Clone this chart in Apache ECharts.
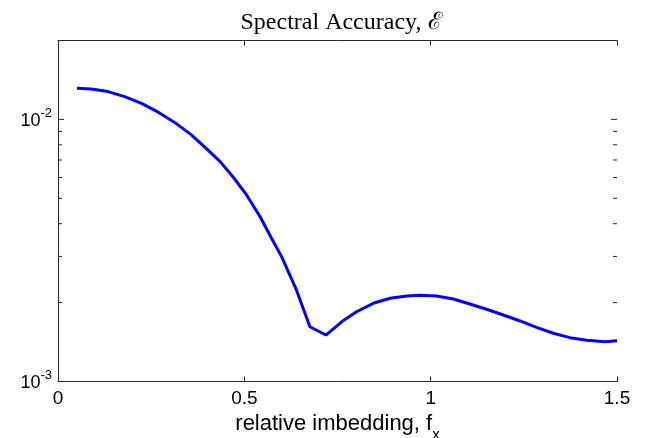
<!DOCTYPE html>
<html>
<head>
<meta charset="utf-8">
<script src="https://cdn.jsdelivr.net/npm/echarts@6/dist/echarts.min.js"></script>
<style>
  html, body { margin: 0; padding: 0; background: #fff; }
  #chart { width: 647px; height: 438px; }
</style>
</head>
<body>
<div id="chart"></div>
<script>
// relative imbedding f_x
const fx = [0.051, 0.089, 0.134, 0.179, 0.224, 0.268, 0.313, 0.358, 0.399, 0.435,
  0.470, 0.506, 0.542, 0.573, 0.600, 0.640, 0.676, 0.719, 0.761, 0.801,
  0.846, 0.891, 0.936, 0.971, 1.016, 1.061, 1.105, 1.150, 1.195, 1.240,
  1.284, 1.329, 1.374, 1.419, 1.468, 1.500]
// spectral accuracy E
const accuracy = [0.01315, 0.01307, 0.01277, 0.01222, 0.01151, 0.01068, 0.00974, 0.00873, 0.00772, 0.00690,
  0.00603, 0.00515, 0.00426, 0.00352, 0.002995, 0.00223, 0.001618, 0.001504, 0.00169, 0.001846,
  0.001988, 0.002078, 0.00212, 0.002133, 0.00212, 0.002065, 0.001976, 0.001886, 0.001794, 0.001702,
  0.00161, 0.001528, 0.00147, 0.001436, 0.001419, 0.001431]

const xTicks = ['0', '0.5', '1', '1.5']
const yMajorTicks = [0.001, 0.01]
const yMinorTicks = [0.002, 0.003, 0.004, 0.005, 0.006, 0.007, 0.008, 0.009, 0.02]

const axisColor = '#262626'
const chart = echarts.init(document.getElementById('chart'))

const option = {
  animation: false,
  title: {
    text: 'Spectral Accuracy, ℰ',
    left: 336,
    top: 6,
    textAlign: 'center',
    textStyle: { fontFamily: 'Liberation Serif', fontWeight: 'normal', fontSize: 24, color: '#000' }
  },
  grid: { left: 58, right: 30, top: 40.5, bottom: 56.5, containLabel: false, outerBoundsMode: 'none' },
  xAxis: [{
    type: 'value', min: 0, max: 1.5, interval: 0.5,
    position: 'bottom',
    axisLine: { onZero: false, lineStyle: { color: axisColor, width: 1 } },
    axisTick: { inside: true, length: 5, lineStyle: { color: axisColor } },
    splitLine: { show: false },
    axisLabel: {
      color: '#000', fontFamily: 'Liberation Sans', fontSize: 19, margin: 8,
      formatter: v => xTicks[Math.round(v / 0.5)]
    },
    name: 'relative imbedding, f{sub|x}',
    nameLocation: 'middle',
    nameGap: 23,
    nameTextStyle: {
      color: '#000', fontFamily: 'Liberation Sans', fontSize: 22,
      rich: { sub: { fontSize: 15, fontFamily: 'Liberation Sans', color: '#000', padding: [20, 0, 0, 0] } }
    }
  }, {
    type: 'value', min: 0, max: 1.5, interval: 0.5,
    position: 'top',
    axisLine: { onZero: false, lineStyle: { color: axisColor, width: 1 } },
    axisTick: { inside: true, length: 5, lineStyle: { color: axisColor } },
    axisLabel: { show: false },
    splitLine: { show: false }
  }],
  yAxis: [{
    type: 'log', logBase: 10, min: 0.001, max: 0.02,
    position: 'left',
    axisLine: { show: true, lineStyle: { color: axisColor, width: 1 } },
    axisTick: { show: false },
    splitLine: { show: false },
    axisLabel: {
      color: '#000',
      margin: 6,
      verticalAlign: 'middle',
      verticalAlignMinLabel: 'middle',
      verticalAlignMaxLabel: 'middle',
      formatter: v => {
        const e = Math.round(Math.log10(v))
        if (Math.abs(Math.log10(v) - e) > 1e-6) return ''
        return '{b|10}{s|' + e + '}'
      },
      rich: {
        b: { fontSize: 18, fontFamily: 'Liberation Sans', color: '#000', padding: [4, 0, 0, 0] },
        s: { fontSize: 13, fontFamily: 'Liberation Sans', color: '#000', padding: [0, 0, 12, 0] }
      }
    }
  }, {
    type: 'log', logBase: 10, min: 0.001, max: 0.02,
    position: 'right',
    axisLine: { show: true, lineStyle: { color: axisColor, width: 1 } },
    axisTick: { show: false },
    splitLine: { show: false },
    axisLabel: { show: false }
  }],
  series: [{
    type: 'line',
    data: fx.map((x, i) => [x, accuracy[i]]),
    showSymbol: false,
    lineStyle: { color: '#0000ff', width: 3 },
    z: 3
  }, {
    // major and minor log ticks on both vertical axes, pointing inward
    type: 'custom',
    silent: true,
    clip: false,
    data: yMajorTicks.map(v => [0, v, 6]).concat(yMinorTicks.map(v => [0, v, 4])),
    renderItem: (params, api) => {
      const l = api.coord([0, api.value(1)])
      const r = api.coord([1.5, api.value(1)])
      const len = api.value(2)
      const style = { stroke: axisColor, lineWidth: 1 }
      return {
        type: 'group',
        children: [
          { type: 'line', shape: { x1: l[0], y1: l[1], x2: l[0] + len, y2: l[1] }, style },
          { type: 'line', shape: { x1: r[0], y1: r[1], x2: r[0] - len, y2: r[1] }, style }
        ]
      }
    }
  }]
}
chart.setOption(option)
</script>
</body>
</html>
